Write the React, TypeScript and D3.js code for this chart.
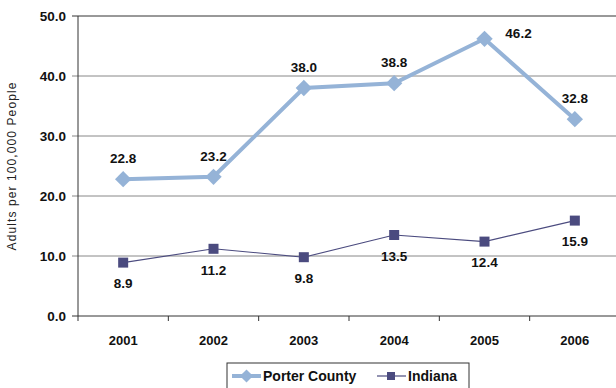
import * as d3 from "d3";
import React from "react";

const years = ["2001", "2002", "2003", "2004", "2005", "2006"];
const porterCounty = [22.8, 23.2, 38.0, 38.8, 46.2, 32.8];
const indiana = [8.9, 11.2, 9.8, 13.5, 12.4, 15.9];
const yTicks = [0, 10, 20, 30, 40, 50];

const W = 616;
const H = 388;
const margin = { left: 78, top: 16, right: -4, bottom: 72 };

const App: React.FC = () => {
  const x = d3
    .scaleBand()
    .domain(years)
    .range([margin.left, W - margin.right]);
  const y = d3
    .scaleLinear()
    .domain([0, 50])
    .range([H - margin.bottom, margin.top]);

  const mk = d3
    .line<number>()
    .x((_, i) => x(years[i])! + x.bandwidth() / 2)
    .y((d) => y(d));

  const cx = (i: number) => x(years[i])! + x.bandwidth() / 2;
  const font = "'Liberation Sans', Arial, sans-serif";

  return (
    <svg
      width={W}
      height={H}
      style={{ position: "absolute", left: 0, top: 0, fontFamily: font }}
    >
      <rect width={W} height={H} fill="#fff" />
      {yTicks.map((t) => (
        <g key={t}>
          <line
            x1={margin.left - 6}
            x2={W}
            y1={y(t)}
            y2={y(t)}
            stroke={t === 0 || t === 50 ? "#333" : "#888"}
            strokeWidth={1}
          />
          <text
            x={margin.left - 12}
            y={y(t)}
            dy="0.35em"
            textAnchor="end"
            fontSize={13.5}
            fontWeight="bold"
            fill="#111"
          >
            {t.toFixed(1)}
          </text>
        </g>
      ))}
      <line
        x1={margin.left}
        x2={margin.left}
        y1={y(50)}
        y2={y(0) + 5}
        stroke="#333"
      />
      {years.map((yr, i) => (
        <g key={yr}>
          <line
            x1={x(yr)! + x.bandwidth()}
            x2={x(yr)! + x.bandwidth()}
            y1={y(0)}
            y2={y(0) + 5}
            stroke="#333"
          />
          <text
            x={cx(i)}
            y={y(0) + 29}
            textAnchor="middle"
            fontSize={13}
            fontWeight="bold"
            fill="#111"
          >
            {yr}
          </text>
        </g>
      ))}
      <text
        transform={`translate(16,${(y(0) + y(50)) / 2}) rotate(-90)`}
        textAnchor="middle"
        fontSize={12}
        letterSpacing={1.1}
        fill="#222"
      >
        Adults per 100,000 People
      </text>

      <path d={mk(indiana)!} fill="none" stroke="#4B4B7F" strokeWidth={1.1} />
      {indiana.map((v, i) => (
        <g key={i}>
          <rect x={cx(i) - 5} y={y(v) - 5} width={10} height={10} fill="#4B4B7F" />
          <text
            x={cx(i)}
            y={y(v) + 21}
            dy="0.35em"
            textAnchor="middle"
            fontSize={13.5}
            fontWeight="bold"
            fill="#111"
          >
            {v.toFixed(1)}
          </text>
        </g>
      ))}

      <path d={mk(porterCounty)!} fill="none" stroke="#95B3D7" strokeWidth={4} />
      {porterCounty.map((v, i) => (
        <g key={i}>
          <path
            d={d3.symbol(d3.symbolDiamond2, 170)()!}
            transform={`translate(${cx(i)},${y(v)})`}
            fill="#95B3D7"
          />
          <text
            x={cx(i) + (i === 4 ? 34 : 0)}
            y={y(v) - (i === 4 ? 6 : 21)}
            dy="0.35em"
            textAnchor="middle"
            fontSize={13.5}
            fontWeight="bold"
            fill="#111"
          >
            {v.toFixed(1)}
          </text>
        </g>
      ))}

      <g transform="translate(227,363)">
        <rect x={0} y={0} width={242} height={30} fill="#fff" stroke="#333" />
        <line x1={5} x2={34} y1={13} y2={13} stroke="#95B3D7" strokeWidth={4} />
        <path
          d={d3.symbol(d3.symbolDiamond2, 110)()!}
          transform="translate(19.5,13)"
          fill="#95B3D7"
        />
        <text x={36} y={13} dy="0.35em" fontSize={14} fontWeight="bold" fill="#111">
          Porter County
        </text>
        <line x1={150} x2={179} y1={13} y2={13} stroke="#4B4B7F" strokeWidth={1.2} />
        <rect x={160} y={9} width={8} height={8} fill="#4B4B7F" />
        <text x={181} y={13} dy="0.35em" fontSize={14} fontWeight="bold" fill="#111">
          Indiana
        </text>
      </g>
    </svg>
  );
};

export default App;
